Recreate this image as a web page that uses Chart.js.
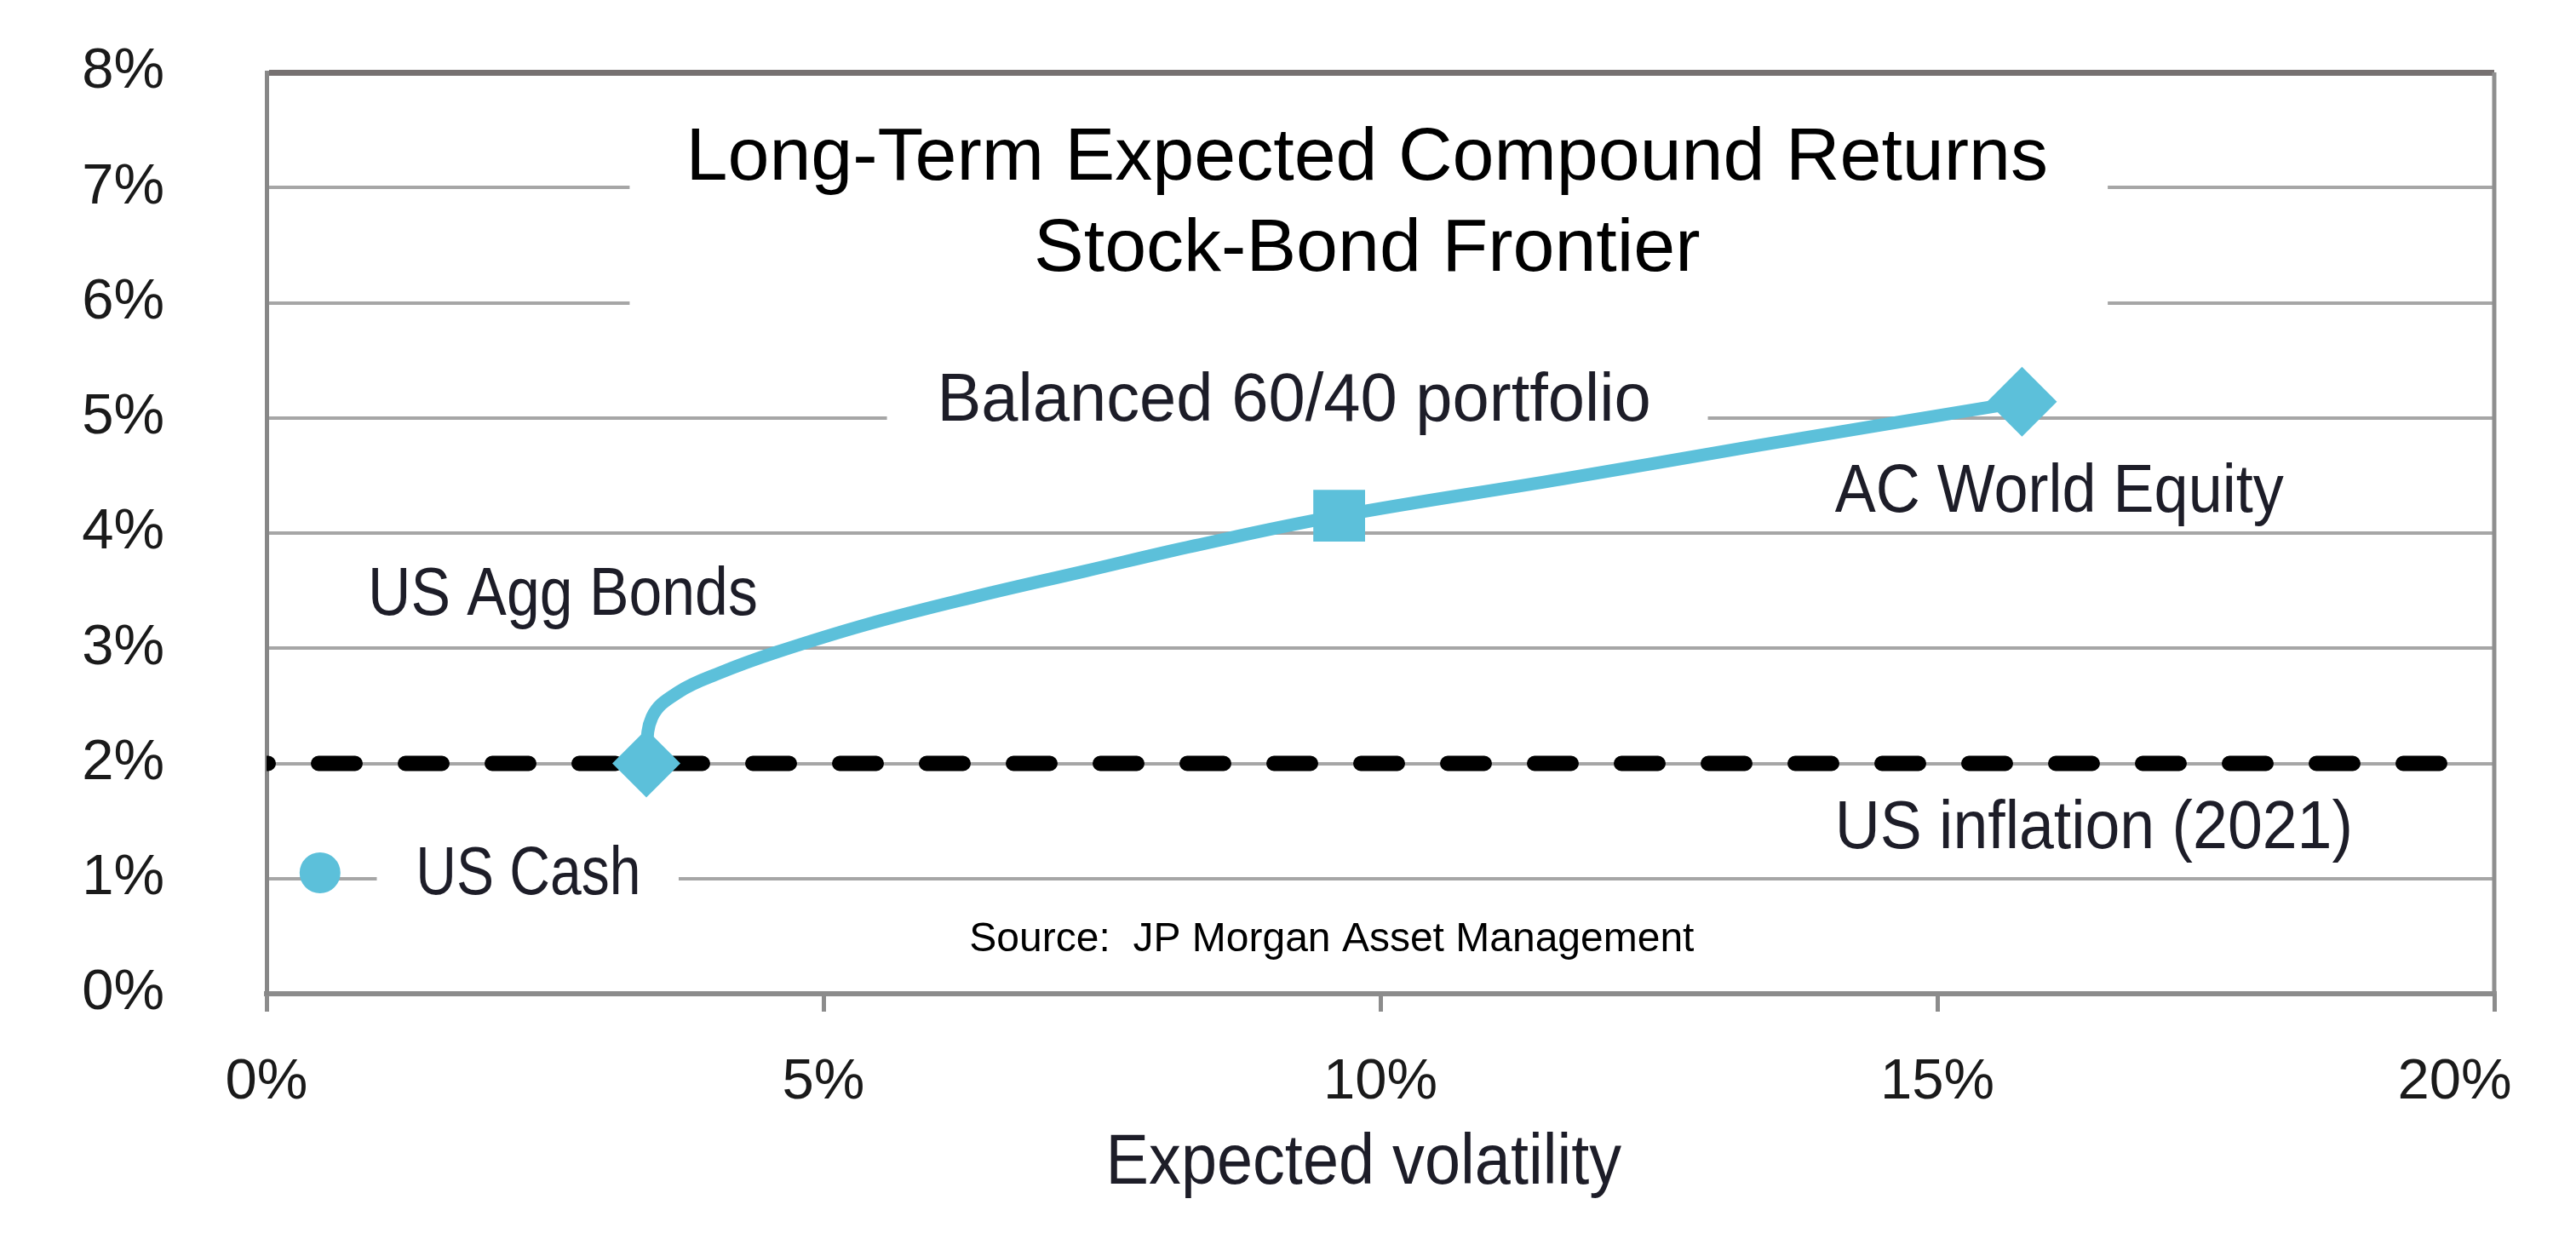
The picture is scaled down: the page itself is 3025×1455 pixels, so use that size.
<!DOCTYPE html>
<html lang="en">
<head>
<meta charset="UTF-8">
<title>Stock-Bond Frontier</title>
<script src="https://cdn.jsdelivr.net/npm/chart.js"></script>
<style>
  html, body { margin: 0; padding: 0; background: #fff; }
  .wrap { width: 3025px; height: 1455px; position: relative; }
</style>
</head>
<body>
<div class="wrap"><canvas id="frontier"></canvas></div>
<script>
// Values, all in percent
const frontierVol = [3.41, 3.46, 3.70, 4.08, 4.56, 5.40, 6.37, 7.35, 8.33, 9.63, 11.64, 13.39, 15.76];
const frontierRet = [2.00, 2.40, 2.62, 2.79, 2.96, 3.21, 3.45, 3.67, 3.89, 4.15, 4.47, 4.76, 5.14];

const assetNames = ['US Cash', 'US Agg Bonds', 'Balanced 60/40 portfolio', 'AC World Equity'];
const assetVol = [0.48, 3.41, 9.63, 15.76];
const assetRet = [1.05, 2.00, 4.15, 5.14];

const inflationVol = [0, 19.6];
const inflationRet = [2, 2];

const SANS = '"Liberation Sans", Arial, sans-serif';
const BLUE = '#5cc0da';
const GRID = '#a6a6a6';
const AXIS = '#8c8c8c';
const INK = '#1d1d28';

// labels on the plot: left edge x, vertical middle y, width w (all in axis units)
const notes = [
  { text: 'Balanced 60/40 portfolio', x: 6.02, y: 5.14, w: 6.41 },
  { text: 'AC World Equity', x: 14.08, y: 4.35, w: 4.03 },
  { text: 'US Agg Bonds', x: 0.91, y: 3.45, w: 3.50 },
  { text: 'US Cash', x: 1.34, y: 1.03, w: 2.02 },
  { text: 'US inflation (2021)', x: 14.08, y: 1.43, w: 4.65 }
];
// white patches that cut the grid behind text [x0, x1, y0, y1]
const blanks = [
  [3.26, 16.53, 5.9, 7.6],
  [5.57, 12.94, 4.9, 5.4],
  [0.99, 3.70, 0.9, 1.2]
];

// draw text squeezed to a given pixel width (the original uses a condensed face)
function fitText(ctx, text, x, y, width) {
  const k = width / ctx.measureText(text).width;
  ctx.save();
  ctx.translate(x, y);
  ctx.scale(Math.min(k, 1), 1);
  ctx.fillText(text, 0, 0);
  ctx.restore();
}

const overlay = {
  id: 'overlay',
  beforeDatasetsDraw(chart) {
    const { ctx, chartArea, scales: { x, y } } = chart;
    ctx.save();
    ctx.fillStyle = '#fff';
    blanks.forEach(b => {
      const l = x.getPixelForValue(b[0]), r = x.getPixelForValue(b[1]);
      const t = y.getPixelForValue(b[3]), bt = y.getPixelForValue(b[2]);
      ctx.fillRect(l, t, r - l, bt - t);
    });
    // frame on the right side
    ctx.strokeStyle = '#8f8f8f';
    ctx.lineWidth = 5;
    ctx.beginPath();
    ctx.moveTo(chartArea.right, chartArea.top);
    ctx.lineTo(chartArea.right, chartArea.bottom);
    ctx.stroke();
    ctx.restore();
  },
  afterDatasetsDraw(chart) {
    const { ctx, chartArea, scales: { x, y } } = chart;
    const unit = x.getPixelForValue(1) - x.getPixelForValue(0);
    ctx.save();
    ctx.textBaseline = 'middle';
    ctx.textAlign = 'left';
    ctx.fillStyle = INK;
    ctx.font = '80px ' + SANS;
    notes.forEach(n => fitText(ctx, n.text, x.getPixelForValue(n.x), y.getPixelForValue(n.y), n.w * unit));

    // axis title, same condensed look
    ctx.textBaseline = 'alphabetic';
    ctx.font = '84px ' + SANS;
    const tw = 4.63 * unit;
    fitText(ctx, 'Expected volatility', x.getPixelForValue(9.85) - tw / 2, chartArea.bottom + 223, tw);

    ctx.textBaseline = 'middle';
    ctx.fillStyle = '#000';
    ctx.font = '48px ' + SANS;
    ctx.fillText('Source:  JP Morgan Asset Management', x.getPixelForValue(6.31), y.getPixelForValue(0.47));

    ctx.textAlign = 'center';
    ctx.font = '88px ' + SANS;
    ctx.fillText('Long-Term Expected Compound Returns', x.getPixelForValue(9.88), y.getPixelForValue(7.25));
    ctx.fillText('Stock-Bond Frontier', x.getPixelForValue(9.88), y.getPixelForValue(6.46));
    ctx.restore();
  }
};

const pts = (xs, ys) => xs.map((v, i) => ({ x: v, y: ys[i] }));

new Chart(document.getElementById('frontier'), {
  type: 'scatter',
  data: {
    datasets: [
      {
        label: 'Assets',
        data: pts(assetVol, assetRet),
        pointStyle: ['circle', 'rectRot', 'rect', 'rectRot'],
        pointRadius: [24, 40, 43, 41],
        backgroundColor: BLUE,
        borderWidth: 0,
        order: 0
      },
      {
        label: 'Frontier',
        data: pts(frontierVol, frontierRet),
        showLine: true,
        borderColor: BLUE,
        borderWidth: 15,
        tension: 0.4,
        borderCapStyle: 'round',
        pointRadius: 0,
        order: 1
      },
      {
        label: 'US inflation (2021)',
        data: pts(inflationVol, inflationRet),
        showLine: true,
        borderColor: '#000',
        borderWidth: 18,
        borderDash: [43, 59],
        borderDashOffset: 41,
        borderCapStyle: 'round',
        pointRadius: 0,
        order: 2
      }
    ]
  },
  options: {
    responsive: true,
    maintainAspectRatio: false,
    animation: false,
    layout: { padding: { top: 85, right: 96, left: 0, bottom: 0 } },
    plugins: {
      legend: { display: false },
      tooltip: { enabled: false }
    },
    scales: {
      x: {
        min: 0, max: 20,
        afterFit: s => { s.height = 288; s.paddingLeft = 0; s.paddingRight = 0; },
        ticks: {
          stepSize: 5,
          padding: 43,
          color: '#1a1a1a',
          font: { family: SANS, size: 67 },
          // the last label sits pulled in from the frame in the original
          callback: v => v === 20 ? v + '%     ' : v + '%'
        },
        grid: { drawOnChartArea: false, drawTicks: true, tickLength: 21, color: AXIS, lineWidth: 5 },
        border: { display: true, color: AXIS, width: 6 }
      },
      y: {
        min: 0, max: 8,
        afterFit: s => { s.width = 313; s.paddingTop = 0; s.paddingBottom = 0; },
        ticks: {
          stepSize: 1,
          padding: 120,
          color: '#1a1a1a',
          font: { family: SANS, size: 67 },
          callback: v => v + '%'
        },
        grid: {
          drawTicks: false,
          color: c => c.tick && c.tick.value === 8 ? '#767171' : GRID,
          lineWidth: c => c.tick && c.tick.value === 8 ? 7 : 4
        },
        border: { display: true, color: '#878787', width: 5 }
      }
    }
  },
  plugins: [overlay]
});
</script>
</body>
</html>
